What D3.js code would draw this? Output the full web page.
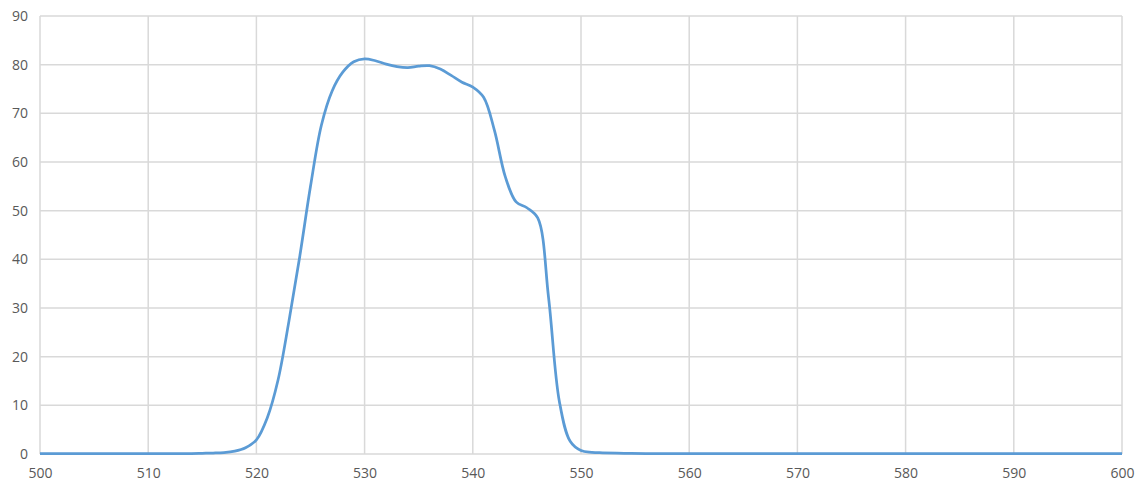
<!DOCTYPE html>
<html>
<head>
<meta charset="utf-8">
<script src="https://cdn.jsdelivr.net/npm/d3@7"></script>
<style>
  body { margin: 0; background: #fff; }
  .tick text { font-family: "Open Sans", "Liberation Sans", sans-serif; font-size: 14px; fill: #595959; }
</style>
</head>
<body>
<div class="chart"></div>
<script>
// wavelength (nm) and transmission (%)
var wavelengths = [500,502,504,506,508,510,512,514,515,516,517,518,519,520,521,522,523,524,525,526,527,528,529,530,531,532,533,534,535,536,537,538,539,540,541,542,543,544,545,546,547,548,549,550,551,552,554,556,560,570,580,590,600];
var transmission = [0.1,0.1,0.1,0.1,0.1,0.1,0.1,0.1,0.15,0.2,0.3,0.6,1.3,2.9,7.4,15.2,27.2,40.5,55,67.5,74.6,78.5,80.6,81.2,80.8,80.1,79.6,79.4,79.7,79.8,79.1,77.8,76.4,75.4,73.3,66.5,57,51.8,50.6,48.5,32.2,10.8,2.6,0.7,0.35,0.25,0.15,0.1,0.1,0.1,0.1,0.1,0.1];

var xTicks = d3.range(500, 601, 10);
var yTicks = d3.range(0, 91, 10);

var margin = {top: 16, right: 19, bottom: 37, left: 40};
var width = 1141 - margin.left - margin.right;
var height = 491 - margin.top - margin.bottom;

var svg = d3.select(".chart")
    .append("svg")
    .attr("width", 1141)
    .attr("height", 491);

var g = svg.append("g")
    .attr("transform", "translate(" + margin.left + "," + margin.top + ")");

var x = d3.scaleLinear().domain([500, 600]).range([0, width]);
var y = d3.scaleLinear().domain([0, 90]).range([height, 0]);

// grid
g.append("g")
    .selectAll("line.v")
    .data(xTicks)
    .join("line")
    .attr("x1", d => x(d)).attr("x2", d => x(d))
    .attr("y1", 0).attr("y2", height)
    .attr("stroke", "#d9d9d9").attr("stroke-width", 1.5);

g.append("g")
    .selectAll("line.h")
    .data(yTicks)
    .join("line")
    .attr("x1", 0).attr("x2", width)
    .attr("y1", d => y(d)).attr("y2", d => y(d))
    .attr("stroke", "#d9d9d9").attr("stroke-width", 1.5);

// axes (labels only)
var xAxis = g.append("g")
    .attr("transform", "translate(0," + height + ")")
    .call(d3.axisBottom(x).tickValues(xTicks).tickSize(0).tickPadding(14));
xAxis.select(".domain").remove();

var yAxis = g.append("g")
    .call(d3.axisLeft(y).tickValues(yTicks).tickSize(0).tickPadding(12));
yAxis.select(".domain").remove();

var data = wavelengths.map((w, i) => ({w: w, t: transmission[i]}));

var line = d3.line()
    .x(d => x(d.w))
    .y(d => y(d.t))
    .curve(d3.curveCatmullRom.alpha(0.5));

g.append("path")
    .datum(data)
    .attr("fill", "none")
    .attr("stroke", "#5b9bd5")
    .attr("stroke-width", 2.75)
    .attr("stroke-linejoin", "round")
    .attr("d", line);
</script>
</body>
</html>
